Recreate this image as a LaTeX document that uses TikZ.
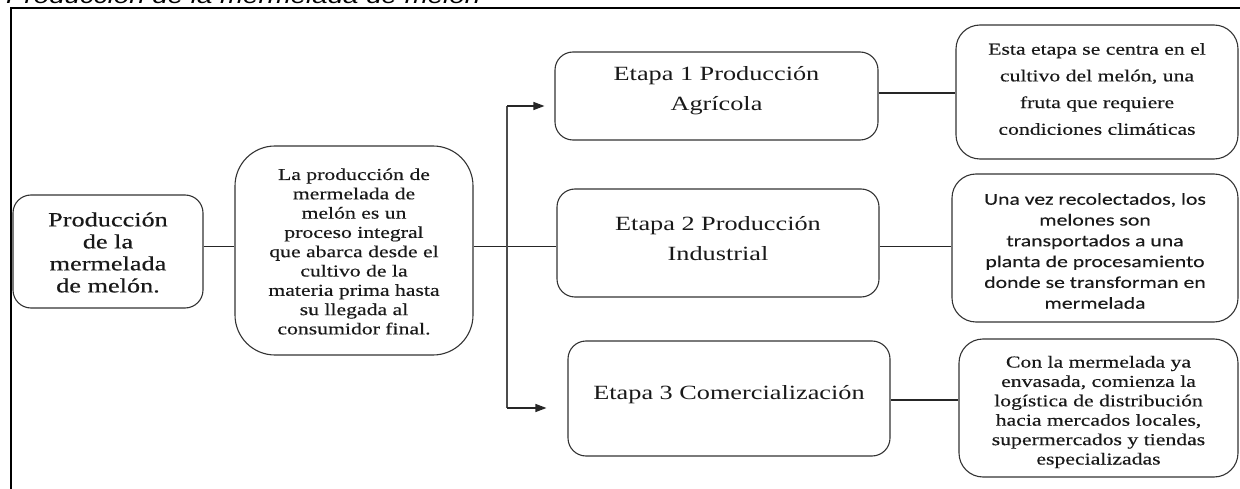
\documentclass[tikz,border=0pt]{standalone}
\usepackage{fontspec}
\setmainfont{Liberation Serif}[FakeStretch=1.3]
\newfontfamily\cam{Liberation Serif}[FakeStretch=1.3,FakeBold=0.35]
\newfontfamily\calib{Carlito}[FakeStretch=1.3,FakeBold=0.2]
\newfontfamily\titlefont{Liberation Sans}[FakeStretch=1.3]
\usetikzlibrary{arrows.meta,calc}
\begin{document}
\begin{tikzpicture}[x=1pt,y=-1pt,
  box/.style={draw=black!80, line width=1.1pt, rectangle, rounded corners=#1, inner sep=0pt},
  box/.default=18pt,
  txt/.style={align=center, inner sep=0pt, text=black!90},
  big/.style={txt, font=\fontsize{20.2}{#1}\selectfont},
  bigc/.style={txt, font=\cam\fontsize{20.2}{#1}\selectfont},
  small/.style={txt, font=\cam\fontsize{16.7}{#1}\selectfont},
  con/.style={draw=black!85, line width=1.2pt},
  arr/.style={con, -{Triangle[length=11pt,width=8pt]}}
]
\useasboundingbox (0,0) rectangle (1240,489);
\clip (0,0) rectangle (1240,489);

% title (clipped at top) and frame
\node[anchor=base west, inner sep=0pt, font=\titlefont\itshape\fontsize{21.3}{24}\selectfont] (title) at (6,4) {Producción de la mermelada de melón};
\draw[line width=1.6pt] (11,489) -- (11,8) -- (1240,8);

% boxes
\node[box=18pt, minimum width=190pt, minimum height=113pt] (A) at (108,251.5) {};
\node[bigc=22] (At) at ($(A)+(0,1)$) {Producción\\de la\\mermelada\\de melón.};

\node[box=40pt, minimum width=238pt, minimum height=209pt] (B) at (354,250.5) {};
\node[small=19.3] (Bt) at ($(B)+(0,1)$) {La producción de\\mermelada de\\melón es un\\proceso integral\\que abarca desde el\\cultivo de la\\materia prima hasta\\su llegada al\\consumidor final.};

\node[box=18pt, minimum width=323pt, minimum height=88pt] (E1) at (716.5,96) {};
\node[big=30] (E1t) at ($(E1)+(0,-5)$) {Etapa 1 Producción\\Agrícola};

\node[box=18pt, minimum width=322pt, minimum height=108pt] (E2) at (718,243) {};
\node[big=30] (E2t) at ($(E2)+(0,-4)$) {Etapa 2 Producción\\Industrial};

\node[box=18pt, minimum width=322pt, minimum height=115pt] (E3) at (729,398.5) {};
\node[big=30] (E3t) at ($(E3)+(0,-4)$) {Etapa 3 Comercialización};

\node[box=24pt, minimum width=282pt, minimum height=134pt] (R1) at (1097,92) {};
\node[small=26.7] (R1t) at ($(R1)+(0,-3)$) {Esta etapa se centra en el\\cultivo del melón, una\\fruta que requiere\\condiciones climáticas};

\node[box=24pt, minimum width=286pt, minimum height=148pt] (R2) at (1095,248) {};
\node[txt, font=\calib\fontsize{16.7}{20.8}\selectfont] (R2t) at ($(R2)+(0,3)$) {Una vez recolectados, los\\melones son\\transportados a una\\planta de procesamiento\\donde se transforman en\\mermelada};

\node[box=24pt, minimum width=279pt, minimum height=138pt] (R3) at (1098.5,408) {};
\node[small=19.4] (R3t) at ($(R3)+(0,4)$) {Con la mermelada ya\\envasada, comienza la\\logística de distribución\\hacia mercados locales,\\supermercados y tiendas\\especializadas};

% connectors
\coordinate (mid) at (0,246.5);
\coordinate (jt) at (507,106);
\coordinate (jb) at (507,408);
\coordinate (y1) at (0,93);
\coordinate (y3) at (0,400);

\draw[con] (A.east |- mid) -- (B.west |- mid);
\draw[con] (B.east |- mid) -- (E2.west |- mid);
\draw[con, line width=1.7pt, draw=black!70] (jt) -- (jb);
\draw[arr, shorten >=10pt] (jt) -- (E1.west |- jt);
\draw[arr, shorten >=21pt] (jb) -- (E3.west |- jb);
\draw[con] (E1.east |- y1) -- (R1.west |- y1);
\draw[con] (E2.east |- mid) -- (R2.west |- mid);
\draw[con] (E3.east |- y3) -- (R3.west |- y3);
\end{tikzpicture}
\end{document}
